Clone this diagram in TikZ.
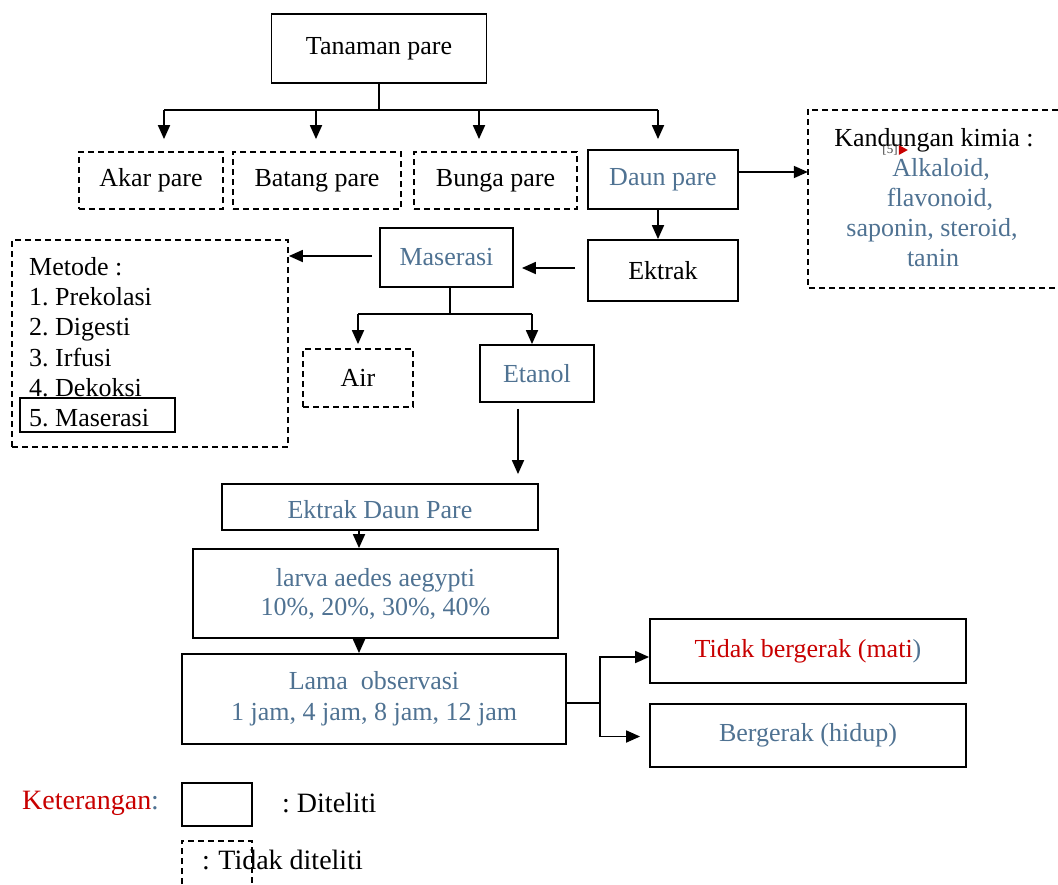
\documentclass[tikz,border=0pt]{standalone}
\usepackage{fontspec}
\setmainfont{Liberation Serif}
\usetikzlibrary{arrows.meta}
\definecolor{tblue}{RGB}{79,114,146}
\definecolor{tred}{RGB}{200,0,0}
\frenchspacing
\begin{document}
\begin{tikzpicture}[x=1pt,y=-1pt,
  every node/.style={font=\fontsize{26}{30}\selectfont, inner sep=0pt},
  box/.style={draw, line width=1.8pt, align=center},
  dbox/.style={box, dashed, dash pattern=on 6pt off 4pt},
  dline/.style={line width=1.8pt, dashed, dash pattern=on 6pt off 4pt},
  arr/.style={line width=1.8pt, -{Triangle[length=14pt,width=12pt]}},
  ln/.style={line width=1.8pt},
  bt/.style={text=tblue},
  legt/.style={font=\fontsize{28}{32}\selectfont}]
\useasboundingbox (0,0) rectangle (1058,884);

% ---- top row
\node[box, minimum width=215pt, minimum height=69pt] (tan) at (379,48.5) {Tanaman pare};
\node[dbox, minimum width=144pt, minimum height=57pt] (akar) at (151,180.5) {Akar pare};
\node[dbox, minimum width=168pt, minimum height=57pt] (batang) at (317,180.5) {Batang pare};
\node[dbox, minimum width=163pt, minimum height=57pt] (bunga) at (495.5,180.5) {Bunga pare};
\node[box, bt, minimum width=150pt, minimum height=59pt] (daun) at (663,179.5) {Daun pare};

% ---- kandungan kimia
\node[minimum width=250pt, minimum height=178pt] (kand) at (933,199) {};
\draw[dline] (kand.north east) -- (kand.north west) -- (kand.south west) -- (kand.south east);
\node[anchor=base] (k1) at (934,146) {Kandungan kimia :};
\node[anchor=base, bt] (k2) at (941,176) {Alkaloid,};
\node[anchor=base, bt] (k3) at (940,206) {flavonoid,};
\node[anchor=base, bt] (k4) at (932,236) {saponin, steroid,};
\node[anchor=base, bt] (k5) at (933,266) {tanin};
\node[font=\fontsize{13}{15}\selectfont, text=black!75] (ref5) at (890,150) {[5]};
\fill[tred] (ref5.east) ++(1,-5) -- ++(9,5) -- ++(-9,5) -- cycle;

% ---- middle
\node[box, minimum width=150pt, minimum height=61pt] (ektrak) at (663,270.5) {Ektrak};
\node[box, bt, minimum width=133pt, minimum height=59pt] (maser) at (446.5,257.5) {Maserasi};
\node[dbox, minimum width=276pt, minimum height=207pt] (metode) at (150,343.5) {};
\node[anchor=base west] (mt0) at (29,275) {Metode :};
\node[anchor=base west] (mt1) at (29,305.3) {1. Prekolasi};
\node[anchor=base west] (mt2) at (29,335.6) {2. Digesti};
\node[anchor=base west] (mt3) at (29,366) {3. Irfusi};
\node[anchor=base west] (mt4) at (29,396.3) {4. Dekoksi};
\node[box, line width=1.5pt, minimum width=155pt, minimum height=34pt] (m5box) at (97.5,415) {};
\node[anchor=base west] (mt5) at (29,426.6) {5. Maserasi};

\node[dbox, minimum width=110pt, minimum height=58pt] (air) at (358,378) {Air};
\node[box, bt, minimum width=114pt, minimum height=57pt] (etanol) at (537,373.5) {Etanol};

% ---- lower chain
\node[box, bt, minimum width=316pt, minimum height=46pt, text height=24pt] (edp) at (380,507) {Ektrak Daun Pare};
\node[box, bt, minimum width=365pt, minimum height=89pt, font=\fontsize{26}{29}\selectfont] (larva) at (375.5,593.5) {larva aedes aegypti\\10\%, 20\%, 30\%, 40\%};
\node[box, bt, minimum width=384pt, minimum height=90pt, font=\fontsize{26}{31}\selectfont] (lama) at (374,699) {Lama~ observasi\\1 jam, 4 jam, 8 jam, 12 jam};
\node[box, minimum width=316pt, minimum height=64pt] (tidak) at (808,651) {\textcolor{tred}{Tidak bergerak (mati}\textcolor{tblue}{)}};
\node[box, bt, minimum width=316pt, minimum height=63pt] (berg) at (808,735.5) {Bergerak (hidup)};

% ---- legend
\node[legt, anchor=west] (ket) at (22,803) {\textcolor{tred}{Keterangan}\textcolor{tblue}{:}};
\node[box, minimum width=70pt, minimum height=43pt] (leg1) at (217,804.5) {};
\node[legt, anchor=west] (leg1t) at (282,803) {: Diteliti};
\node[minimum width=70pt, minimum height=43pt] (leg2) at (217,862.5) {};
\draw[dline] (leg2.south west) -- (leg2.north west) -- (leg2.north east) -- (leg2.south east);
\node[legt, anchor=west] (leg2t) at (202,860) {:\hspace{0.3em}Tidak diteliti};

% ---- connectors: top tree
\draw[ln] (tan.south) -- ++(0,27) coordinate (tj);
\coordinate (b1) at (164,110);
\coordinate (b2) at (316,110);
\coordinate (b3) at (479,110);
\coordinate (b4) at (658,110);
\draw[ln] (b1) -- (b4);
\draw[arr, shorten >=12pt] (b1) -- (b1 |- akar.north);
\draw[arr, shorten >=12pt] (b2) -- (b2 |- batang.north);
\draw[arr, shorten >=12pt] (b3) -- (b3 |- bunga.north);
\draw[arr, shorten >=10pt] (b4) -- (b4 |- daun.north);

\draw[arr] ([yshift=7.5pt]daun.east) coordinate (d1) -- (d1 -| kand.west);
\draw[arr] ([xshift=-5pt]daun.south) -- ([xshift=-5pt]ektrak.north);
\draw[arr, shorten <=12pt, shorten >=8pt] ([yshift=2.5pt]ektrak.west) coordinate (e0) -- (e0 -| maser.east);
\draw[arr, shorten <=7pt] ([yshift=1.5pt]maser.west) coordinate (m1) -- (m1 -| metode.east);

% ---- maserasi split
\draw[ln] ([xshift=3.5pt]maser.south) -- ++(0,27) coordinate (mj);
\coordinate (ma) at (358,314);
\coordinate (mb) at (532,314);
\draw[ln] (ma) -- (mb);
\draw[arr, shorten >=4pt] (ma) -- (ma |- air.north);
\draw[arr] (mb) -- (mb |- etanol.north);

% ---- etanol to extract
\coordinate (ex) at (518,0);
\draw[arr, shorten <=6pt, shorten >=9pt] (ex |- etanol.south) -- (ex |- edp.north);
\coordinate (cx) at (359,0);
\draw[arr] (cx |- edp.south) -- (cx |- larva.north);
\draw[arr] (cx |- larva.south) -- (cx |- lama.north);

% ---- results split
\coordinate (lj) at (600,703);
\draw[ln] ([yshift=-4pt]lama.east) -- (lj);
\draw[arr] (lj) |- ([yshift=-6pt]tidak.west);
\draw[arr, shorten >=9pt] (lj) |- ([yshift=-1pt]berg.west);
\end{tikzpicture}
\end{document}
